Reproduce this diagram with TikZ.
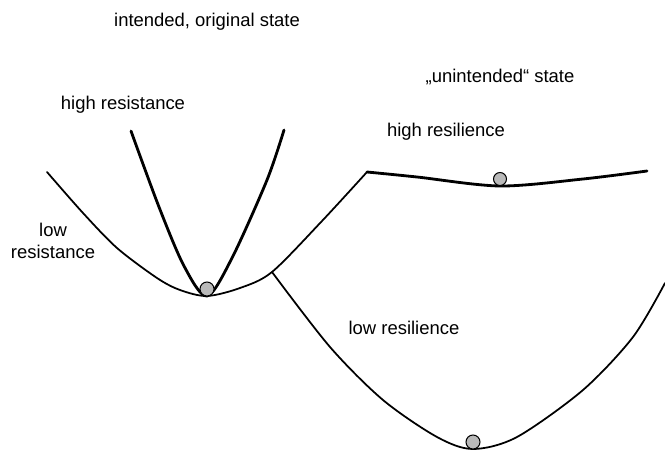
\documentclass[tikz,border=0pt]{standalone}
\usepackage{fontspec}
\setmainfont{Liberation Sans}

\begin{document}
\begin{tikzpicture}[x=0.02cm,y=-0.02cm,line cap=round,line join=round,
  valley/.style={line width=1pt},
  steep/.style={line width=1.6pt},
  ball/.style={draw=black,line width=0.6pt,fill=gray!55},
  lbl/.style={font=\fontsize{10.5}{12.5}\selectfont,inner sep=0pt,align=center}]
\useasboundingbox (0,0) rectangle (665,452);
\coordinate (junction) at (272,272);
\coordinate (corner) at (367,172);
% original valley, low resistance
\draw[valley] plot[smooth] coordinates {(47,172) (83,213) (117,248) (157,278) (180,290) (207,296) (240,288) (junction) (322,221) (corner)};
% original valley, high resistance
\draw[steep] plot[smooth] coordinates {(131,131) (159,207) (184,266) (207,296) (232,258) (267,180) (284,130)};
% unintended state, high resilience
\draw[steep] plot[smooth] coordinates {(corner) (417,177) (500,186) (583,179) (647,171)};
% unintended state, low resilience
\draw[valley] plot[smooth] coordinates {(junction) (330,347) (383,400) (437,437) (473,449) (517,437) (583,390) (633,337) (665,283)};
% balls
\draw[ball] (207,289) circle[radius=0.14cm];
\draw[ball] (500,179) circle[radius=0.13cm];
\draw[ball] (473,442) circle[radius=0.14cm];
% labels
\node[lbl] (intended) at (207,22) {intended, original state};
\node[lbl] (unintended) at (500,77) {„unintended“ state};
\node[lbl] (highres) at (123,105) {high resistance};
\node[lbl] (highresil) at (446,132) {high resilience};
\node[lbl] (lowres) at (53,241) {low\\resistance};
\node[lbl] (lowresil) at (404,328) {low resilience};
\end{tikzpicture}
\end{document}
